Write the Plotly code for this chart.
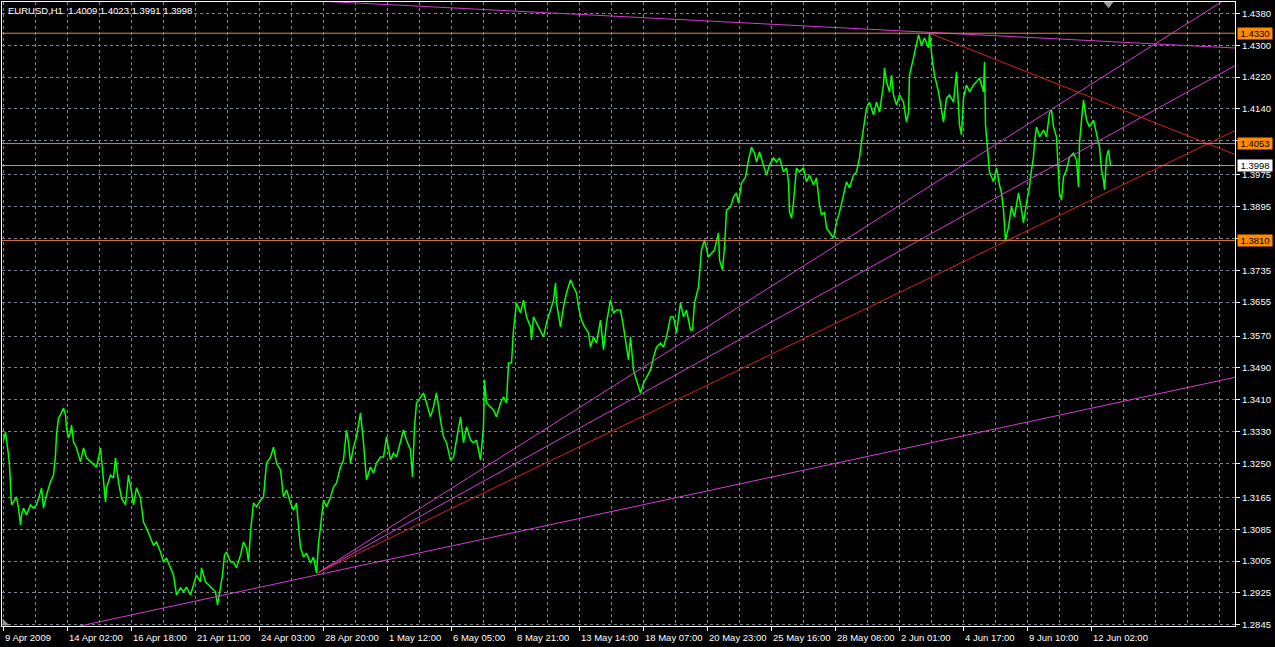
import plotly.graph_objects as go

# ---------------- data ----------------
symbol_title = "EURUSD,H1  1.4009 1.4023 1.3991 1.3998"

bars = [0,2,5,6,8,10,13,15,17,18,20,23,27,30,33,37,38,40,43,47,50,52,53,55,57,60,62,63,65,67,68,70,73,77,80,83,87,90,93,97,100,102,103,107,110,112,115,118,122,125,128,130,133,137,140,143,147,150,153,157,160,163,167,170,173,177,180,183,187,190,193,197,198,202,205,208,212,214,217,219,221,223,227,230,233,237,240,243,245,247,
        250,253,257,260,263,267,270,273,277,280,283,287,290,293,295,297,300,303,307,310,313,315,317,320,323,327,330,333,337,340,343,345,347,350,353,357,360,363,367,370,373,377,380,383,387,390,393,397,400,403,407,409,411,413,417,420,423,427,430,433,437,440,443,447,450,453,457,460,463,467,470,473,477,480,481,483,487,490,493,497,500,503,
        505,508,510,512,513,517,520,523,527,528,530,533,537,540,543,547,550,552,553,557,560,563,567,570,573,575,578,581,585,587,590,593,597,600,603,607,610,613,617,620,623,625,627,630,632,635,637,640,643,647,650,653,657,660,663,667,670,673,677,680,683,687,689,691,695,697,698,701,705,708,711,715,716,719,721,723,727,730,733,735,738,742,745,748,751,
        753,756,760,763,766,770,773,776,780,783,785,786,788,790,793,796,800,803,806,810,813,816,818,821,823,826,830,833,836,840,843,846,850,853,856,858,860,863,866,870,873,876,880,881,883,886,888,890,893,896,900,903,905,906,910,913,915,918,921,925,926,929,931,935,938,940,943,946,950,953,956,958,960,963,966,970,973,976,980,981,982,984,986,990,993,996,998,1000,1002,
        1005,1008,1011,1015,1018,1020,1023,1026,1028,1030,1031,1033,1036,1040,1043,1046,1048,1050,1053,1055,1056,1058,1060,1063,1066,1070,1073,1075,1076,1078,1080,1083,1086,1090,1093,1096,1098,1100,1101,1103,1105,1107]

close = [1.3309,1.3329,1.3271,1.3246,1.3146,1.3153,1.3166,1.3138,1.3096,1.3121,1.3138,1.3121,1.3146,1.3138,1.3146,1.3178,1.3189,1.3138,1.3171,1.3204,1.3221,1.3271,1.3322,1.3364,1.3372,1.3389,1.3372,1.3339,1.3314,1.3329,1.3347,1.3304,1.3289,1.3254,1.3289,1.3264,1.3254,1.3246,1.3241,1.3289,1.3196,1.3153,1.3189,1.3221,1.3214,1.3264,1.3204,1.3163,1.3146,1.3221,1.3178,1.3146,1.3189,1.3163,1.3103,1.3088,1.3063,1.3045,1.3053,1.3028,1.3003,1.3013,1.2988,1.2970,1.2920,1.2938,1.2928,1.2940,1.2920,1.2945,1.2970,1.2953,1.2988,1.2953,1.2945,1.2938,1.2928,1.2895,1.2945,1.2970,1.3020,1.3028,1.3003,1.3003,1.2988,1.3020,1.3053,1.3038,1.3003,1.3078,
         1.3151,1.3141,1.3158,1.3166,1.3251,1.3266,1.3291,1.3251,1.3234,1.3166,1.3184,1.3151,1.3133,1.3151,1.3091,1.3040,1.3015,1.3025,1.3000,1.3015,1.2975,1.3050,1.3091,1.3158,1.3141,1.3166,1.3191,1.3201,1.3241,1.3259,1.3334,1.3302,1.3251,1.3291,1.3317,1.3377,1.3302,1.3209,1.3241,1.3226,1.3251,1.3266,1.3266,1.3317,1.3259,1.3276,1.3266,1.3302,1.3334,1.3309,1.3284,1.3216,1.3342,1.3402,1.3417,1.3427,1.3402,1.3367,1.3392,1.3427,1.3359,1.3317,1.3302,1.3259,1.3266,1.3309,1.3367,1.3302,1.3342,1.3309,1.3302,1.3309,1.3259,1.3342,1.3460,1.3402,1.3392,1.3384,1.3367,1.3402,1.3417,1.3402,
         1.3502,1.3502,1.3585,1.3635,1.3653,1.3628,1.3660,1.3618,1.3593,1.3560,1.3618,1.3603,1.3585,1.3568,1.3603,1.3635,1.3660,1.3703,1.3653,1.3593,1.3643,1.3678,1.3711,1.3693,1.3678,1.3643,1.3610,1.3593,1.3578,1.3542,1.3568,1.3552,1.3610,1.3535,1.3603,1.3660,1.3628,1.3635,1.3635,1.3593,1.3542,1.3510,1.3568,1.3485,1.3467,1.3442,1.3427,1.3452,1.3467,1.3485,1.3517,1.3542,1.3552,1.3542,1.3568,1.3618,1.3618,1.3578,1.3653,1.3618,1.3635,1.3585,1.3585,1.3653,1.3693,1.3768,1.3786,1.3811,1.3768,1.3778,1.3786,1.3829,1.3761,1.3736,1.3793,1.3886,1.3894,1.3919,1.3929,1.3904,1.3954,1.3969,1.4012,1.4044,1.4029,
         1.4007,1.4032,1.3999,1.3974,1.3999,1.4017,1.4007,1.4017,1.3982,1.3992,1.3957,1.3881,1.3866,1.3906,1.3992,1.3982,1.3992,1.3957,1.3974,1.3949,1.3967,1.3899,1.3874,1.3881,1.3841,1.3831,1.3816,1.3856,1.3881,1.3924,1.3957,1.3942,1.3974,1.3982,1.4017,1.4057,1.4092,1.4142,1.4157,1.4125,1.4157,1.4132,1.4200,1.4243,1.4208,1.4183,1.4225,1.4175,1.4150,1.4175,1.4157,1.4107,1.4132,1.4225,1.4268,1.4308,1.4326,1.4300,1.4318,1.4293,1.4330,1.4258,1.4225,1.4183,1.4132,1.4107,1.4167,1.4175,1.4157,1.4233,1.4100,1.4075,1.4167,1.4200,1.4183,1.4200,1.4208,1.4218,1.4183,1.4258,1.4100,1.4032,1.3982,1.3957,1.3992,1.3949,1.3929,1.3886,1.3810,
         1.3844,1.3894,1.3869,1.3929,1.3886,1.3854,1.3904,1.3944,1.3987,1.4019,1.4055,1.4095,1.4070,1.4087,1.4070,1.4130,1.4137,1.4095,1.4070,1.3987,1.3929,1.3911,1.3969,1.3987,1.4019,1.4029,1.4012,1.3944,1.4055,1.4112,1.4162,1.4112,1.4095,1.4112,1.4080,1.4044,1.3987,1.3962,1.3937,1.4019,1.4037,1.3998]

x_label_bars = [0, 64, 128, 192, 256, 320, 384, 448, 512, 576, 640, 704, 768, 832, 896, 960, 1024, 1088]
x_labels = ["9 Apr 2009", "14 Apr 02:00", "16 Apr 18:00", "21 Apr 11:00", "24 Apr 03:00",
            "28 Apr 20:00", "1 May 12:00", "6 May 05:00", "8 May 21:00", "13 May 14:00",
            "18 May 07:00", "20 May 23:00", "25 May 16:00", "28 May 08:00", "2 Jun 01:00",
            "4 Jun 17:00", "9 Jun 10:00", "12 Jun 02:00"]
x_grid_extra = [32, 96, 160, 224, 288, 352, 416, 480, 544, 608, 672, 736, 800, 864, 928,
                992, 1056, 1120, 1152, 1184, 1216]

y_ticks = [1.4380, 1.4300, 1.4220, 1.4140, 1.4060, 1.3975, 1.3895, 1.3815, 1.3735, 1.3655,
           1.3570, 1.3490, 1.3410, 1.3330, 1.3250, 1.3165, 1.3085, 1.3005, 1.2925, 1.2845]
# tick labels covered by the price-level boxes on the scale
y_hidden_ticks = [1.4060, 1.3815]

level_prices = [1.4330, 1.4053, 1.3810]
bid_price = 1.3998

# trend lines: (bar1, price1, bar2, price2, kind, colour)
trend_lines = [
    (780, 1.4351, 1231, 1.4293, "line", "#d23cd2"),
    (128, 1.2870, 1231, 1.3466, "line", "#d23cd2"),
    (314, 1.2975, 1123, 1.4258, "ray", "#d23cd2"),
    (314, 1.2975, 757, 1.3590, "ray", "#d23cd2"),
    (314, 1.2975, 1204, 1.4052, "ray", "#d42020"),
    (926, 1.4330, 1204, 1.4053, "ray", "#d42020"),
]

# ---------------- styling ----------------
X_RANGE = [-1.5, 1231.5]
Y_RANGE = [1.28421, 1.44084]
GRID = "#7c8490"
FONT = "Liberation Sans"
ORANGE_LINE = "#e8803a"
ORANGE_BOX = "#ff8c00"

fig = go.Figure()

fig.add_trace(go.Scatter(x=bars, y=close, mode="lines",
                         line=dict(color="#00ff00", width=1.5), hoverinfo="skip"))

for b1, p1, b2, p2, kind, col in trend_lines:
    slope = (p2 - p1) / (b2 - b1)
    xa = X_RANGE[0] if kind == "line" else b1
    xb = X_RANGE[1]
    fig.add_trace(go.Scatter(x=[xa, xb], y=[p1 + slope * (xa - b1), p1 + slope * (xb - b1)],
                             mode="lines", line=dict(color=col, width=1), hoverinfo="skip"))

shapes = []
for lp in level_prices:
    shapes.append(dict(type="line", xref="paper", yref="y", x0=0, x1=1, y0=lp, y1=lp,
                       line=dict(color=ORANGE_LINE, width=1), layer="above"))
shapes.append(dict(type="line", xref="paper", yref="y", x0=0, x1=1, y0=bid_price, y1=bid_price,
                   line=dict(color="#a0a0a0", width=1), layer="above"))
# small grey markers of the terminal
shapes.append(dict(type="path", xref="paper", yref="paper",
                   path="M 0.0005 0.001 L 0.006 0.001 L 0.0005 0.012 Z",
                   fillcolor="#9a9a9a", line=dict(width=0)))
shapes.append(dict(type="path", xref="x", yref="paper",
                   path="M 1100 1 L 1110 1 L 1105 0.99 Z",
                   fillcolor="#9a9a9a", line=dict(width=0)))

annotations = []
annotations.append(dict(text=symbol_title, xref="paper", yref="paper", x=0, y=1,
                        xanchor="left", yanchor="top", xshift=4, yshift=-1, showarrow=False,
                        font=dict(family=FONT, size=9.5, color="white")))
for b, lab in zip(x_label_bars, x_labels):
    annotations.append(dict(text=lab, xref="x", yref="paper", x=b, y=0, xanchor="left",
                            yanchor="top", xshift=-1, yshift=-4, showarrow=False,
                            font=dict(family=FONT, size=9.5, color="white")))
for lp in level_prices:
    annotations.append(dict(text=f"{lp:.4f}", xref="paper", yref="y", x=1, y=lp,
                            xanchor="left", yanchor="middle", xshift=2, showarrow=False,
                            bgcolor=ORANGE_BOX, borderpad=0, width=34, height=11,
                            font=dict(family=FONT, size=9.5, color="black")))
annotations.append(dict(text=f"{bid_price:.4f}", xref="paper", yref="y", x=1, y=bid_price,
                        xanchor="left", yanchor="middle", xshift=2, showarrow=False,
                        bgcolor="white", borderpad=0, width=34, height=11,
                        font=dict(family=FONT, size=9.5, color="black")))

fig.update_layout(
    width=1275, height=647,
    margin=dict(l=2, r=40, t=2, b=21),
    paper_bgcolor="black", plot_bgcolor="black",
    showlegend=False,
    shapes=shapes, annotations=annotations,
    xaxis=dict(range=X_RANGE, tickmode="array", tickvals=x_label_bars, showticklabels=False,
               ticks="outside", ticklen=4, tickcolor="white", tickwidth=1,
               showgrid=True, gridcolor=GRID, griddash="3px,3px", gridwidth=1,
               minor=dict(tickmode="array", tickvals=x_grid_extra, showgrid=True,
                          gridcolor=GRID, griddash="3px,3px", gridwidth=1, ticks=""),
               showline=True, linecolor="white", linewidth=1, mirror=True, zeroline=False,
               fixedrange=True),
    yaxis=dict(range=Y_RANGE, side="right", tickmode="array", tickvals=y_ticks,
               ticktext=["" if v in y_hidden_ticks else f"{v:.4f}" for v in y_ticks],
               ticks="outside", ticklen=4, tickcolor="white", tickwidth=1,
               tickfont=dict(family=FONT, size=9.5, color="white"),
               showgrid=True, gridcolor=GRID, griddash="3px,3px", gridwidth=1,
               showline=True, linecolor="white", linewidth=1, mirror=True, zeroline=False,
               fixedrange=True),
)

fig.write_html("out.html", config={"displayModeBar": False},
               post_script="document.body.style.margin='0';document.body.style.overflow='hidden';")
